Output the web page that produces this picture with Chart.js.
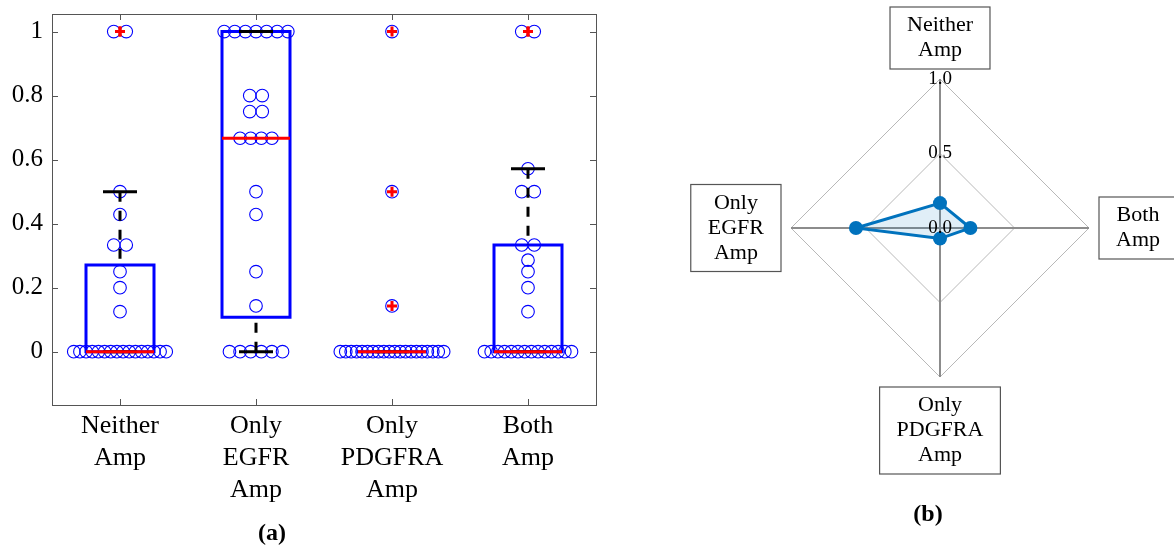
<!DOCTYPE html>
<html>
<head>
<meta charset="utf-8">
<script src="https://cdn.jsdelivr.net/npm/chart.js@4.4.0/dist/chart.umd.min.js"></script>
<style>
  html, body { margin: 0; padding: 0; background: #fff; }
  #wrap { position: relative; width: 1174px; height: 548px; overflow: hidden; }
  #box { position: absolute; left: 0; top: 0; }
  #radar { position: absolute; left: 680px; top: 0; }
</style>
</head>
<body>
<div id="wrap">
  <canvas id="box" width="620" height="548"></canvas>
  <canvas id="radar" width="494" height="548"></canvas>
</div>
<script>
// values per group (a)
const categories = [['Neither', 'Amp'], ['Only', 'EGFR', 'Amp'], ['Only', 'PDGFRA', 'Amp'], ['Both', 'Amp']]
const neitherAmp = [0, 0, 0, 0, 0, 0, 0, 0, 0, 0, 0, 0, 0, 0, 0, 0,
  0.125, 0.2, 0.25, 0.3333, 0.3333, 0.4286, 0.5, 1, 1]
const onlyEGFR = [0, 0, 0, 0, 0, 0, 0.1429, 0.25, 0.4286, 0.5,
  0.6667, 0.6667, 0.6667, 0.6667, 0.75, 0.75, 0.8, 0.8, 1, 1, 1, 1, 1, 1, 1]
const onlyPDGFRA = [0, 0, 0, 0, 0, 0, 0, 0, 0, 0, 0, 0, 0, 0, 0, 0, 0, 0, 0, 0,
  0.1429, 0.5, 1]
const bothAmp = [0, 0, 0, 0, 0, 0, 0, 0, 0, 0, 0, 0, 0, 0,
  0.125, 0.2, 0.25, 0.2857, 0.3333, 0.3333, 0.5, 0.5, 0.5714, 1, 1]
const yTicks = [0, 0.2, 0.4, 0.6, 0.8, 1]

// radar (b), clockwise from the top
const radarLabels = [['Neither', 'Amp'], ['Both', 'Amp'], ['Only', 'PDGFRA', 'Amp'], ['Only', 'EGFR', 'Amp']]
const radarMeans = [0.167, 0.204, 0.071, 0.564]
const radarTicks = [0, 0.5, 1]

const SERIF = 'Liberation Serif'
Chart.defaults.font.family = SERIF
Chart.defaults.color = '#000'

const groups = [neitherAmp, onlyEGFR, onlyPDGFRA, bothAmp]

// matlab style percentile
function prctile(s, p) {
  const n = s.length
  const pos = n * p + 0.5
  if (pos <= 1) return s[0]
  if (pos >= n) return s[n - 1]
  const lo = Math.floor(pos)
  return s[lo - 1] + (pos - lo) * (s[lo] - s[lo - 1])
}

function swarm(values, c) {
  const counts = {}
  values.forEach(v => counts[v] = (counts[v] || 0) + 1)
  const seen = {}
  return values.map(v => {
    const n = counts[v]
    const k = seen[v] = (seen[v] === undefined ? 0 : seen[v] + 1)
    const step = n === 2 ? 0.092 : Math.min(0.078, (0.36 + 0.02 * n) / Math.max(n - 1, 1))
    return { x: c + (k - (n - 1) / 2) * step, y: v }
  })
}

const stats = groups.map(g => {
  const s = [...g].sort((a, b) => a - b)
  const q1 = prctile(s, 0.25), med = prctile(s, 0.5), q3 = prctile(s, 0.75)
  const iqr = q3 - q1
  const inside = s.filter(v => v >= q1 - 1.5 * iqr && v <= q3 + 1.5 * iqr)
  return {
    q1, med, q3,
    lo: Math.min(...inside), hi: Math.max(...inside),
    out: s.filter(v => v < q1 - 1.5 * iqr || v > q3 + 1.5 * iqr)
  }
})

const lineDs = (data, color, extra) => Object.assign({
  type: 'scatter', data, showLine: true, borderColor: color, borderWidth: 3,
  pointRadius: 0, pointHoverRadius: 0, fill: false, spanGaps: false
}, extra || {})

const datasets = []
datasets.push({
  type: 'scatter',
  data: stats.flatMap((s, i) => s.out.map(v => ({ x: i + 1, y: v }))),
  pointStyle: 'cross', pointRadius: 5, borderColor: '#ff0000', borderWidth: 3
})
stats.forEach((s, i) => {
  const c = i + 1
  datasets.push(lineDs([{ x: c - 0.25, y: s.med }, { x: c + 0.25, y: s.med }], '#ff0000'))
})
stats.forEach((s, i) => {
  const c = i + 1
  datasets.push(lineDs([{ x: c - 0.125, y: s.hi }, { x: c + 0.125, y: s.hi }, { x: c, y: null },
    { x: c - 0.125, y: s.lo }, { x: c + 0.125, y: s.lo }], '#000'))
  datasets.push(lineDs([{ x: c, y: s.hi }, { x: c, y: s.q3 }, { x: c, y: null },
    { x: c, y: s.lo }, { x: c, y: s.q1 }], '#000', { borderDash: [10, 9] }))
  datasets.push(lineDs([{ x: c - 0.25, y: s.q1 }, { x: c + 0.25, y: s.q1 }, { x: c + 0.25, y: s.q3 },
    { x: c - 0.25, y: s.q3 }, { x: c - 0.25, y: s.q1 }], '#0000ff',
    { borderJoinStyle: 'miter', borderCapStyle: 'square' }))
})
datasets.push({
  type: 'scatter',
  data: groups.flatMap((g, i) => swarm(g, i + 1)),
  pointStyle: 'circle', pointRadius: 6.3, borderColor: '#0000ff', borderWidth: 1.1,
  backgroundColor: 'rgba(0,0,0,0)'
})

const frame = {
  id: 'frame',
  afterDraw(chart) {
    const { ctx, chartArea: a, scales } = chart
    ctx.save()
    ctx.strokeStyle = '#555'
    ctx.lineWidth = 1
    ctx.strokeRect(a.left + 0.5, a.top + 0.5, a.right - a.left, a.bottom - a.top)
    ctx.beginPath()
    yTicks.forEach(v => {
      const y = Math.round(scales.y.getPixelForValue(v)) + 0.5
      ctx.moveTo(a.left, y); ctx.lineTo(a.left + 6, y)
      ctx.moveTo(a.right, y); ctx.lineTo(a.right - 6, y)
    })
    categories.forEach((c, i) => {
      const x = Math.round(scales.x.getPixelForValue(i + 1)) + 0.5
      ctx.moveTo(x, a.bottom); ctx.lineTo(x, a.bottom - 6)
      ctx.moveTo(x, a.top); ctx.lineTo(x, a.top + 6)
    })
    ctx.stroke()
    ctx.fillStyle = '#000'
    ctx.font = 'bold 24px ' + SERIF
    ctx.textAlign = 'center'
    ctx.textBaseline = 'middle'
    ctx.fillText('(a)', 272, 534)
    ctx.restore()
  }
}

new Chart('box', {
  type: 'scatter',
  data: { datasets },
  options: {
    responsive: false, animation: false, devicePixelRatio: 1,
    layout: { padding: { top: 14, right: 24, left: 0, bottom: 0 } },
    plugins: { legend: { display: false }, tooltip: { enabled: false } },
    scales: {
      x: {
        type: 'linear', min: 0.5, max: 4.5,
        grid: { display: false, drawTicks: false }, border: { display: false },
        afterBuildTicks: s => { s.ticks = categories.map((c, i) => ({ value: i + 1 })) },
        afterFit: s => { s.height = 143; s.paddingLeft = 0; s.paddingRight = 0 },
        ticks: {
          padding: 5, maxRotation: 0, autoSkip: false,
          font: { size: 26, lineHeight: 32 / 26 },
          callback: (v, i) => categories[i]
        }
      },
      y: {
        type: 'linear', min: -0.1667, max: 1.055,
        grid: { display: false, drawTicks: false }, border: { display: false },
        afterBuildTicks: s => { s.ticks = yTicks.map(v => ({ value: v })) },
        afterFit: s => { s.width = 52; s.paddingTop = 0; s.paddingBottom = 0 },
        ticks: {
          padding: 9, font: { size: 25 },
          callback: v => String(Math.round(v * 10) / 10)
        }
      }
    }
  },
  plugins: [frame]
})

// radar labels in boxes
const labelBoxes = {
  id: 'labelBoxes',
  afterDraw(chart) {
    const { ctx } = chart
    const r = chart.scales.r
    ctx.save()
    ctx.font = '19px ' + SERIF
    ctx.fillStyle = '#000'
    ctx.textAlign = 'center'
    ctx.textBaseline = 'middle'
    ctx.fillText('0.0', r.xCenter, r.yCenter)

    ctx.font = '22px ' + SERIF
    const lh = 25, padX = 17, padY = 6
    radarLabels.forEach((lines, i) => {
      const p = r.getPointPosition(i, r.drawingArea + 10)
      const w = Math.max(...lines.map(t => ctx.measureText(t).width)) + 2 * padX
      const h = lines.length * lh + 2 * padY
      const dx = p.x - r.xCenter, dy = p.y - r.yCenter
      let left, top
      if (Math.abs(dy) > Math.abs(dx)) {
        left = p.x - w / 2
        top = dy < 0 ? p.y - h : p.y
      } else {
        top = p.y - h / 2
        left = dx < 0 ? p.x - w : p.x
      }
      ctx.strokeStyle = '#555'
      ctx.lineWidth = 1.2
      ctx.fillStyle = '#fff'
      ctx.fillRect(left, top, w, h)
      ctx.strokeRect(left, top, w, h)
      ctx.fillStyle = '#000'
      lines.forEach((t, k) => ctx.fillText(t, left + w / 2, top + padY + lh * (k + 0.5)))
    })
    // caption sits a bit left of the radar centre
    ctx.font = 'bold 24px ' + SERIF
    ctx.fillText('(b)', r.xCenter - 12, 515)
    ctx.restore()
  }
}

new Chart('radar', {
  type: 'radar',
  data: {
    labels: radarLabels,
    datasets: [{
      data: radarMeans,
      borderColor: '#0072bd', borderWidth: 3,
      backgroundColor: 'rgba(0,114,189,0.12)', fill: true,
      pointRadius: 7, pointBackgroundColor: '#0072bd', pointBorderWidth: 0
    }]
  },
  options: {
    responsive: false, animation: false, devicePixelRatio: 1,
    layout: { padding: { left: 101, top: 69, right: 75, bottom: 161 } },
    plugins: { legend: { display: false }, tooltip: { enabled: false } },
    scales: {
      r: {
        min: 0, max: 1,
        afterBuildTicks: s => { s.ticks = radarTicks.map(v => ({ value: v })) },
        ticks: {
          font: { size: 19 }, color: '#000', showLabelBackdrop: false,
          backdropPadding: 0, callback: v => v.toFixed(1)
        },
        grid: { color: '#b8b8b8', lineWidth: 1 },
        angleLines: { color: '#8c8c8c', lineWidth: 2 },
        pointLabels: { display: false }
      }
    }
  },
  plugins: [labelBoxes]
})
</script>
</body>
</html>
